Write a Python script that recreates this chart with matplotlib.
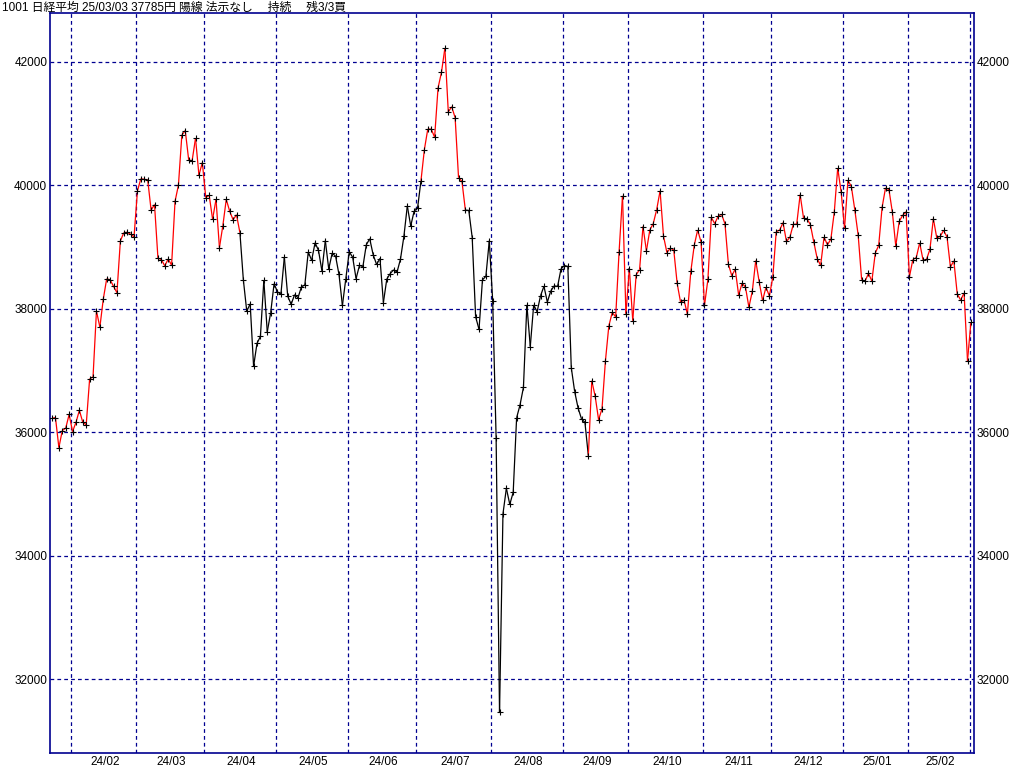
import numpy as np
import matplotlib
matplotlib.use("Agg")
import matplotlib.pyplot as plt
from matplotlib.collections import LineCollection

# 日経平均 終値 (2024/01/24 - 2025/03/03)
closes = [
    # 2024/01 (24-31)
    36226, 36236, 35751, 36027, 36066, 36287,
    # 2024/02
    36011, 36158, 36354, 36161, 36120, 36863, 36897, 37964, 37703, 38158,
    38487, 38470, 38364, 38262, 39099, 39234, 39240, 39208, 39166,
    # 2024/03
    39911, 40109, 40098, 40091, 39599, 39689, 38820, 38798, 38696, 38807,
    38708, 39740, 40004, 40816, 40888, 40414, 40398, 40763, 40168, 40369,
    # 2024/04
    39803, 39839, 39452, 39773, 38992, 39347, 39773, 39582, 39443, 39524,
    39233, 38471, 37962, 38080, 37068, 37439, 37552, 38460, 37628, 37935,
    38406,
    # 2024/05
    38274, 38236, 38835, 38202, 38074, 38229, 38179, 38356, 38386, 38920,
    38787, 39070, 38947, 38617, 39103, 38646, 38900, 38855, 38557, 38054,
    38488,
    # 2024/06
    38923, 38837, 38490, 38704, 38684, 39038, 39135, 38877, 38720, 38815,
    38102, 38482, 38571, 38633, 38596, 38805, 39173, 39667, 39342, 39583,
    # 2024/07
    39631, 40075, 40581, 40914, 40912, 40781, 41580, 41832, 42224, 41191,
    41275, 41098, 40126, 40064, 39599, 39594, 39155, 37870, 37667, 38469,
    38526, 39102,
    # 2024/08
    38126, 35910, 31458, 34675, 35090, 34831, 35025, 36233, 36442, 36727,
    38063, 37389, 38063, 37952, 38211, 38364, 38110, 38289, 38372, 38363,
    38648,
    # 2024/09
    38701, 38686, 37048, 36657, 36391, 36216, 36159, 35620, 36833, 36582,
    36203, 36380, 37155, 37724, 37941, 37870, 38926, 39830, 37920,
    # 2024/10
    38652, 37809, 38552, 38636, 39333, 38938, 39278, 39381, 39606, 39911,
    39180, 38911, 38982, 38955, 38412, 38105, 38143, 37914, 38606, 39028,
    39277, 39081,
    # 2024/11
    38054, 38475, 39481, 39381, 39500, 39533, 39376, 38722, 38536, 38643,
    38221, 38414, 38352, 38026, 38284, 38780, 38442, 38135, 38349, 38208,
    # 2024/12
    38513, 39249, 39276, 39396, 39091, 39161, 39368, 39372, 39849, 39470,
    39457, 39365, 39082, 38814, 38702, 39161, 39037, 39130, 39568, 40281,
    39895,
    # 2025/01
    39307, 40083, 39981, 39605, 39190, 38474, 38445, 38573, 38451, 38903,
    39028, 39646, 39959, 39932, 39566, 39017, 39415, 39514, 39572,
    # 2025/02
    38520, 38798, 38831, 39067, 38787, 38801, 38964, 39461, 39149, 39174,
    39270, 39165, 38678, 38777, 38238, 38142, 38256, 37156,
    # 2025/03
    37785,
]

# 各月の最初の営業日のインデックス
month_starts = [6, 25, 45, 66, 87, 107, 129, 150, 169, 191, 211, 232, 251, 269]
month_labels = ["24/02", "24/03", "24/04", "24/05", "24/06", "24/07", "24/08",
                "24/09", "24/10", "24/11", "24/12", "25/01", "25/02"]

# 買い持ち(赤線)の区間 [開始, 終了)
red_ranges = [(0, 55), (108, 121), (157, 269)]

y_ticks = [32000, 34000, 36000, 38000, 40000, 42000]
title = "1001 日経平均 25/03/03 37785円 陽線 法示なし　 持続　 残3/3買"

navy = "#000090"
num_font = ["Liberation Sans", "DejaVu Sans"]

fig = plt.figure(figsize=(10.24, 7.67), dpi=100)
ax = fig.add_axes([50 / 1024, 1 - 753 / 767, 924 / 1024, 740 / 767])

x = np.arange(len(closes))
y = np.array(closes, dtype=float)

segs = []
cols = []
for i in range(len(closes) - 1):
    segs.append([(x[i], y[i]), (x[i + 1], y[i + 1])])
    red = any(a <= i < b for a, b in red_ranges)
    cols.append("red" if red else "black")
lc = LineCollection(segs, colors=cols, linewidths=0.9, zorder=3)
ax.add_collection(lc)
ax.plot(x, y, linestyle="none", marker="+", color="black",
        markersize=3.8, markeredgewidth=0.8, zorder=4)

ax.set_xlim(-0.6, len(closes) - 1 + 0.9)
ax.set_ylim(30801, 42794)

# grid
for m in month_starts:
    ax.axvline(m - 0.4, color=navy, linestyle=(0, (3, 2.5)), linewidth=0.9, zorder=1)
for t in y_ticks:
    ax.axhline(t, color=navy, linestyle=(0, (3, 2.5)), linewidth=0.9, zorder=1)

ax.set_yticks(y_ticks)
ax.set_yticklabels([str(t) for t in y_ticks], family=num_font, fontsize=8.5)
ax.tick_params(axis="y", length=0, pad=2, labelright=True, labelleft=True)

mids = [(month_starts[k] + month_starts[k + 1]) / 2 for k in range(len(month_labels))]
ax.set_xticks(mids)
ax.set_xticklabels(month_labels, family=num_font, fontsize=8.5)
ax.tick_params(axis="x", length=0, pad=2)

for s in ax.spines.values():
    s.set_color(navy)
    s.set_linewidth(1.2)

fig.text(2 / 1024, 1 - 8 / 767, title, fontsize=8.5, va="center", ha="left",
         family=["Liberation Sans", "Noto Sans CJK JP", "DejaVu Sans"])

fig.savefig("out.png", dpi=100)
